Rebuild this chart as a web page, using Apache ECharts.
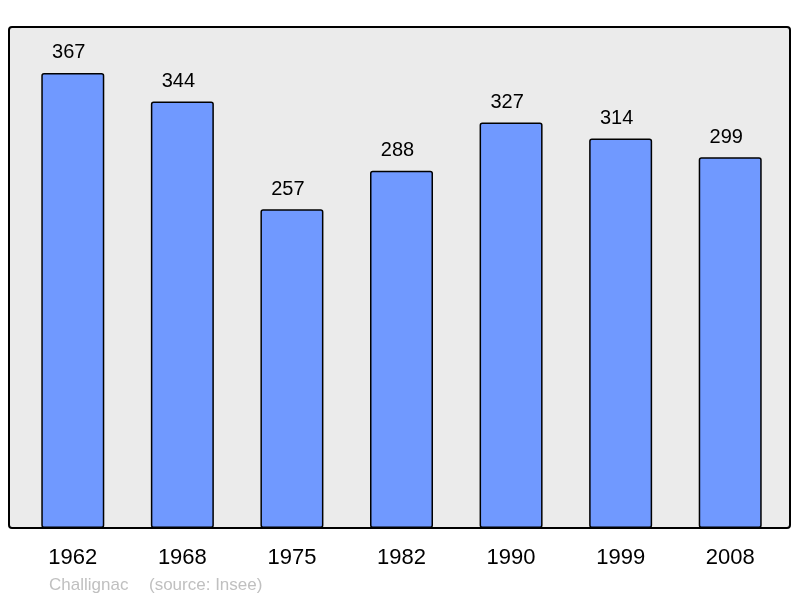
<!DOCTYPE html>
<html>
<head>
<meta charset="utf-8">
<script src="https://cdn.jsdelivr.net/npm/echarts@6/dist/echarts.min.js"></script>
<style>html,body{margin:0;padding:0;background:#fff}#c{width:800px;height:598px}</style>
</head>
<body>
<div id="c"></div>
<script>
var years = ['1962','1968','1975','1982','1990','1999','2008'];
var population = [367, 344, 257, 288, 327, 314, 299];
var commune = 'Challignac';
var sourceText = '(source: Insee)';

var chart = echarts.init(document.getElementById('c'), null, {renderer: 'canvas'});
chart.setOption({
  animation: false,
  backgroundColor: '#ffffff',
  grid: {left: 18, right: 15, top: 27, bottom: 70},
  graphic: [
    {type: 'rect', z: 0, shape: {x: 9, y: 27, width: 781, height: 501, r: 3},
     style: {fill: '#ebebeb', stroke: '#000000', lineWidth: 2}},
    {type: 'text', left: 49, top: 577, z: 5,
     style: {text: commune, fill: '#c0c0c0', font: '17px "Liberation Sans", Arial, sans-serif'}},
    {type: 'text', left: 149, top: 577, z: 5,
     style: {text: sourceText, fill: '#c0c0c0', font: '17px "Liberation Sans", Arial, sans-serif'}}
  ],
  xAxis: {
    type: 'category', data: years,
    axisLine: {show: false}, axisTick: {show: false},
    axisLabel: {color: '#000', fontSize: 22, fontFamily: 'Liberation Sans, Arial, sans-serif', margin: 19}
  },
  yAxis: {
    type: 'value', min: 0, max: 404, show: false, splitLine: {show: false}
  },
  series: [{
    type: 'bar', data: population, barWidth: 63, z: 3,
    itemStyle: {color: '#7099ff', borderColor: '#000000', borderWidth: 1.5, borderRadius: 2},
    label: {show: true, position: 'top', distance: 10, offset: [-4, 0], color: '#000', fontSize: 20,
            fontFamily: 'Liberation Sans, Arial, sans-serif'}
  }]
});
</script>
</body>
</html>
